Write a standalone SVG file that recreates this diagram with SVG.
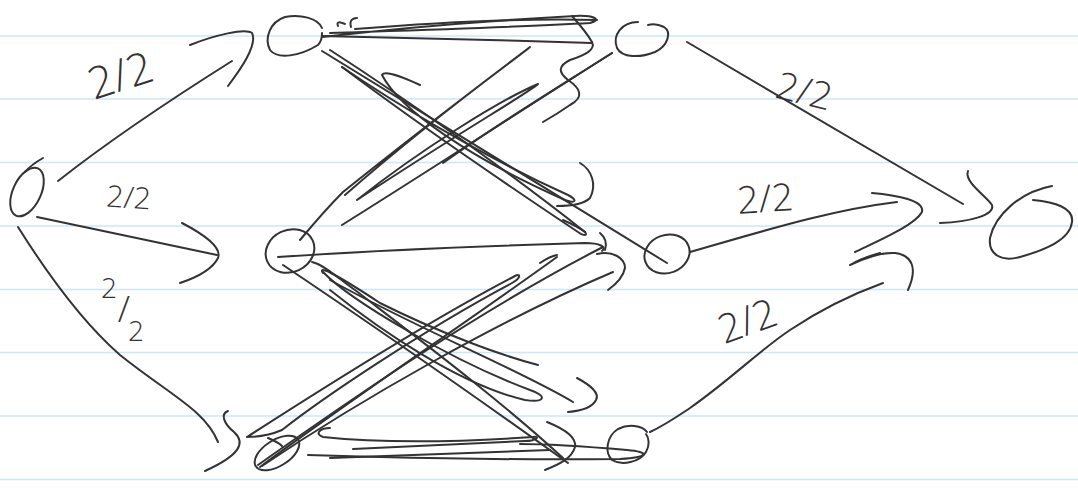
<svg xmlns="http://www.w3.org/2000/svg" width="1078" height="490" viewBox="0 0 1078 490">
<style>
.paper{stroke:#cbe7f8;stroke-width:1.6;fill:none}
.ink{fill:none;stroke:#333;stroke-width:2;stroke-linecap:round;stroke-linejoin:round}
.lbl{font-family:"Open Sans","DejaVu Sans",sans-serif;font-weight:300;fill:#333;text-anchor:middle}
</style>
<rect width="1078" height="490" fill="#fff"/>
<g id="paper">
<line class="paper" x1="0" y1="36" x2="1078" y2="36"/>
<line class="paper" x1="0" y1="99" x2="1078" y2="99"/>
<line class="paper" x1="0" y1="162.5" x2="1078" y2="162.5"/>
<line class="paper" x1="0" y1="226" x2="1078" y2="226"/>
<line class="paper" x1="0" y1="289.5" x2="1078" y2="289.5"/>
<line class="paper" x1="0" y1="352.5" x2="1078" y2="352.5"/>
<line class="paper" x1="0" y1="416" x2="1078" y2="416"/>
<line class="paper" x1="0" y1="479.5" x2="1078" y2="479.5"/>
</g>
<g id="node-S"><ellipse class="ink" cx="27" cy="192" rx="14" ry="26" transform="rotate(25 27 192)"/><path class="ink" d="M43,158 C36,162 30,166 25,172"/></g>
<g id="node-A"><path class="ink" d="M322,28 C318,18 300,14 285,17 C270,22 264,38 270,50 C278,60 300,56 318,45 C322,41 322,36 322,33"/></g>
<g id="node-B"><path class="ink" d="M638,22 C622,22 612,35 617,48 C622,58 640,58 655,52 C668,46 672,32 664,27 C658,24 652,24 648,25"/></g>
<g id="node-C"><ellipse class="ink" cx="290" cy="251" rx="25" ry="21" transform="rotate(-25 290 251)"/></g>
<g id="node-D"><ellipse class="ink" cx="667" cy="254" rx="23" ry="19" transform="rotate(-20 667 254)"/></g>
<g id="node-E"><ellipse class="ink" cx="277" cy="453" rx="25" ry="13" transform="rotate(-32 277 453)"/><path class="ink" d="M268,438 C273,440 278,442 282,446"/></g>
<g id="node-F"><path class="ink" d="M647,432 C642,425 628,424 618,429 C607,436 604,452 612,460 C622,466 640,462 646,452 C650,445 649,438 646,434"/></g>
<g id="node-T"><path class="ink" d="M1052,186 C1020,192 995,215 990,238 C988,255 1002,262 1020,257 C1045,250 1070,240 1072,222 C1074,208 1055,202 1033,200"/></g>
<g id="connectors">
<!-- S edges -->
<path class="ink" d="M58,181 C110,140 170,100 232,61"/>
<path class="ink" d="M190,45 C215,35 245,28 252,33 C258,45 240,70 228,86"/>
<path class="ink" d="M37,217 C100,230 160,243 217,255"/>
<path class="ink" d="M182,223 C205,235 222,248 218,258 C212,270 195,278 180,283"/>
<path class="ink" d="M18,227 C45,270 80,320 120,355 C170,395 205,410 218,442"/>
<path class="ink" d="M228,411 C220,414 224,424 234,432 C246,443 240,455 205,471"/>
<!-- to T -->
<path class="ink" d="M687,42 C780,97 880,155 963,204"/>
<path class="ink" d="M968,171 C964,182 985,195 992,205 C995,215 970,222 940,223"/>
<path class="ink" d="M690,252 C760,232 830,210 897,202"/>
<path class="ink" d="M872,193 C895,195 925,200 922,212 C915,225 880,240 855,252"/>
<path class="ink" d="M650,432 C665,425 675,418 690,408 C730,380 760,350 790,330 C820,310 850,295 883,283"/>
<path class="ink" d="M880,253 C865,257 855,262 850,265 C865,258 880,252 895,253 C912,255 918,268 908,290"/>
<!-- A -> B scribbles -->
<path class="ink" d="M322,37 C400,28 500,20 575,16 C595,15 602,20 590,23 C520,27 420,30 330,33"/>
<path class="ink" d="M322,36 C400,38 500,40 592,43"/>
<path class="ink" d="M355,29 C440,22 520,18 597,20"/>
<path class="ink" d="M338,26 C336,21 340,22 345,24 M351,27 C349,20 353,18 357,18"/>
<path class="ink" d="M572,16 C580,25 588,35 592,42 C596,50 585,55 570,60 C558,66 558,72 568,80 C580,88 585,97 570,105 C560,112 550,118 543,122"/>
<!-- A -> D scribbles -->
<path class="ink" d="M322,51 C420,110 540,185 667,263"/>
<path class="ink" d="M330,50 C400,95 500,165 585,232 C588,236 584,236 578,232 C500,180 410,118 342,67"/>
<path class="ink" d="M342,67 C390,100 480,155 568,195 C578,200 576,204 565,200 C470,158 400,110 382,75 C385,70 400,76 420,85"/>
<path class="ink" d="M580,163 C592,170 597,185 590,198 C583,205 570,206 557,206"/>
<path class="ink" d="M563,220 C572,224 580,228 585,232 M600,233 C606,238 607,244 605,250"/>
<!-- C -> B scribbles -->
<path class="ink" d="M300,240 C315,222 330,205 343,192 C420,130 480,85 530,47 C520,56 440,112 345,195"/>
<path class="ink" d="M357,200 C420,150 500,100 538,84 C530,92 460,132 357,200"/>
<path class="ink" d="M342,225 C430,170 530,105 612,53"/>
<path class="ink" d="M443,163 C500,122 570,80 612,53"/>
<!-- C -> D -->
<path class="ink" d="M278,257 C350,252 480,246 585,243 C600,243 607,247 602,251"/>
<path class="ink" d="M540,263 C546,259 551,256 557,255 M597,254 C612,250 625,258 625,268 C623,278 615,285 608,290"/>
<!-- E -> D -->
<path class="ink" d="M247,437 C320,390 430,320 515,276 C521,273 521,278 512,283 C420,332 320,400 282,430 C268,436 255,437 247,437"/>
<path class="ink" d="M260,467 C350,400 470,320 557,257"/>
<path class="ink" d="M262,466 C360,400 500,320 613,272"/>
<path class="ink" d="M258,465 C350,400 480,310 603,247"/>
<!-- C -> F -->
<path class="ink" d="M283,265 C380,330 480,400 568,463"/>
<path class="ink" d="M312,262 C325,265 340,280 355,290 C420,340 500,400 563,458"/>
<path class="ink" d="M323,273 C318,266 330,270 380,303 C440,333 500,355 538,365"/>
<path class="ink" d="M323,272 C350,300 450,360 530,390 C548,396 545,403 525,400 C460,385 380,330 330,290"/>
<path class="ink" d="M330,280 C420,330 520,370 573,402"/>
<path class="ink" d="M577,378 C590,385 600,393 596,400 C592,408 580,411 568,412"/>
<path class="ink" d="M547,422 C562,428 577,436 575,447 C572,458 560,464 545,470"/>
<!-- E -> F -->
<path class="ink" d="M330,428 C320,428 314,434 323,437 C380,443 460,442 533,437 C541,436 536,441 525,441 C460,444 400,447 353,449"/>
<path class="ink" d="M308,455 C400,458 520,460 620,459 C650,457 650,452 627,450 C580,446 540,444 520,444"/>
<path class="ink" d="M330,458 C420,455 500,452 550,450"/>
</g>
<g id="labels">
<text class="lbl" font-size="44" transform="translate(125,90) rotate(-18)">2/2</text>
<text class="lbl" font-size="30" transform="translate(128,208) rotate(4)">2/2</text>
<text class="lbl" font-size="28"><tspan x="109" y="298">2</tspan><tspan x="124" y="322" font-size="36">/</tspan><tspan x="136" y="341">2</tspan></text>
<text class="lbl" font-size="38" transform="translate(801,104) rotate(14)">2/2</text>
<text class="lbl" font-size="38" transform="translate(766,212) rotate(-4)">2/2</text>
<text class="lbl" font-size="40" transform="translate(752,334) rotate(-20)">2/2</text>
</g>
</svg>
